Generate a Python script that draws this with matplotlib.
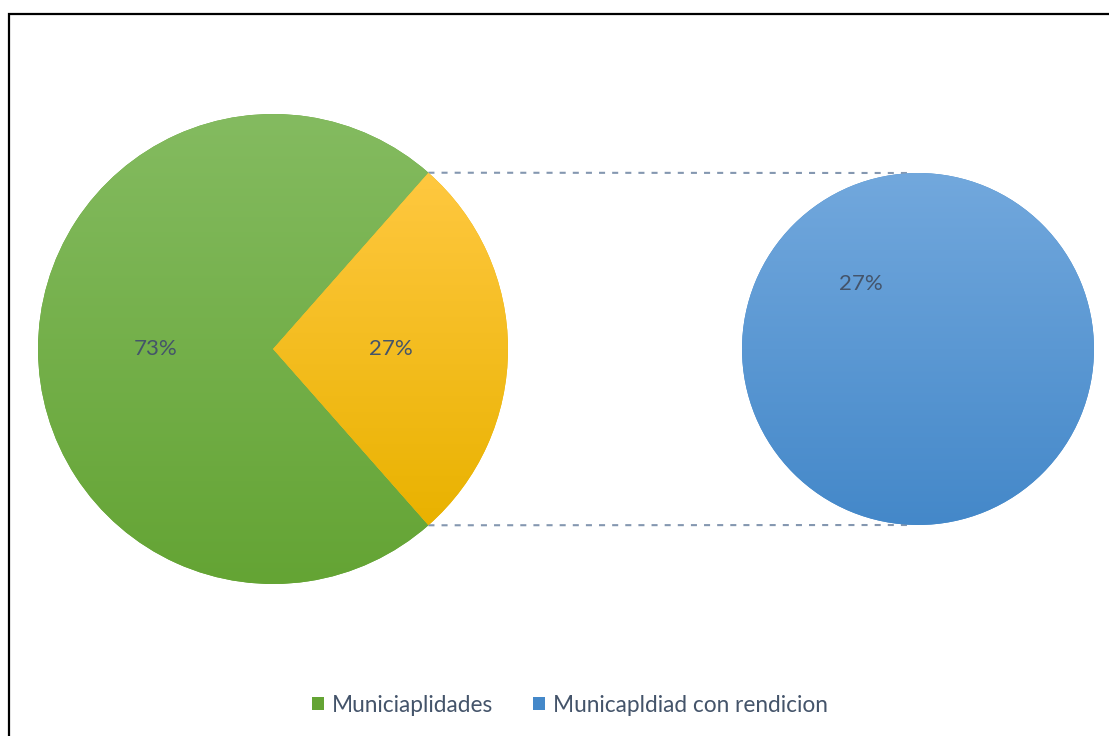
import matplotlib.pyplot as plt
import numpy as np
from matplotlib.colors import LinearSegmentedColormap
from matplotlib.patches import Patch, Rectangle

# data
labels = ["Municiaplidades", "Municapldiad con rendicion"]
main_values = [73, 27]          # left pie: rest vs. split-out share
detail_value = 27               # right pie (the 27% expanded)

# colours (top, bottom of each gradient)
green = ("#84bb60", "#64a434")
yellow = ("#ffc840", "#e9b200")
blue = ("#72a8dd", "#4488c9")
text_col = "#44546a"

plt.rcParams['font.family'] = ['Lato', 'DejaVu Sans']

W, H = 1109, 736
fig = plt.figure(figsize=(W / 100, H / 100), dpi=100)
ax = fig.add_axes([0, 0, 1, 1])

c1, r1 = (273, 387), 235
c2, r2 = (918, 387), 176

half = 360 * main_values[1] / sum(main_values) / 2

w1, t1, a1 = ax.pie(main_values, center=c1, radius=r1, startangle=half,
                    autopct=lambda p: f"{p:.0f}%", pctdistance=0.5,
                    colors=[green[1], yellow[1]],
                    wedgeprops=dict(linewidth=0),
                    textprops=dict(color=text_col, fontsize=16))
w2, t2, a2 = ax.pie([detail_value], center=c2, radius=r2, startangle=-half,
                    autopct=lambda p: f"{detail_value}%", pctdistance=0.49,
                    colors=[blue[1]], wedgeprops=dict(linewidth=0),
                    textprops=dict(color=text_col, fontsize=16))


def gradient_fill(wedge, cols):
    bb = wedge.get_path().get_extents(wedge.get_patch_transform())
    cmap = LinearSegmentedColormap.from_list("g", [cols[1], cols[0]])
    grad = np.linspace(0, 1, 256).reshape(-1, 1)
    im = ax.imshow(grad, cmap=cmap, origin="lower", aspect="auto",
                   extent=[bb.x0, bb.x1, bb.y0, bb.y1], zorder=1.5,
                   interpolation="bilinear")
    im.set_clip_path(wedge)


gradient_fill(w1[0], green)
gradient_fill(w1[1], yellow)
gradient_fill(w2[0], blue)
for t in a1 + a2:
    t.set_zorder(3)

# connector lines
ang = np.radians(half)
for s in (1, -1):
    x0 = c1[0] + r1 * np.cos(ang)
    y0 = c1[1] + s * r1 * np.sin(ang)
    y1 = c2[1] + s * r2
    ax.plot([x0, c2[0] - 6], [y0, y1], color="#8497b0", lw=1.5,
            linestyle=(0, (2.9, 3.4)), zorder=1)

ax.set_xlim(0, W)
ax.set_ylim(0, H)
ax.set_aspect("equal")
ax.axis("off")

handles = [Patch(facecolor=green[1], label=labels[0]),
           Patch(facecolor=blue[1], label=labels[1])]
fig.legend(handles=handles, loc="center", bbox_to_anchor=(570 / W, 1 - 705 / H),
           ncol=2, frameon=False, handlelength=0.53, handleheight=0.53,
           handletextpad=0.36, columnspacing=1.75,
           prop=dict(size=16.3), labelcolor=text_col)

fig.add_artist(Rectangle((9 / W, -0.05), 1.2, 1 - 14 / H + 0.05,
                         transform=fig.transFigure, fill=False,
                         edgecolor="black", lw=1.6))

fig.savefig("out.png", dpi=100)
